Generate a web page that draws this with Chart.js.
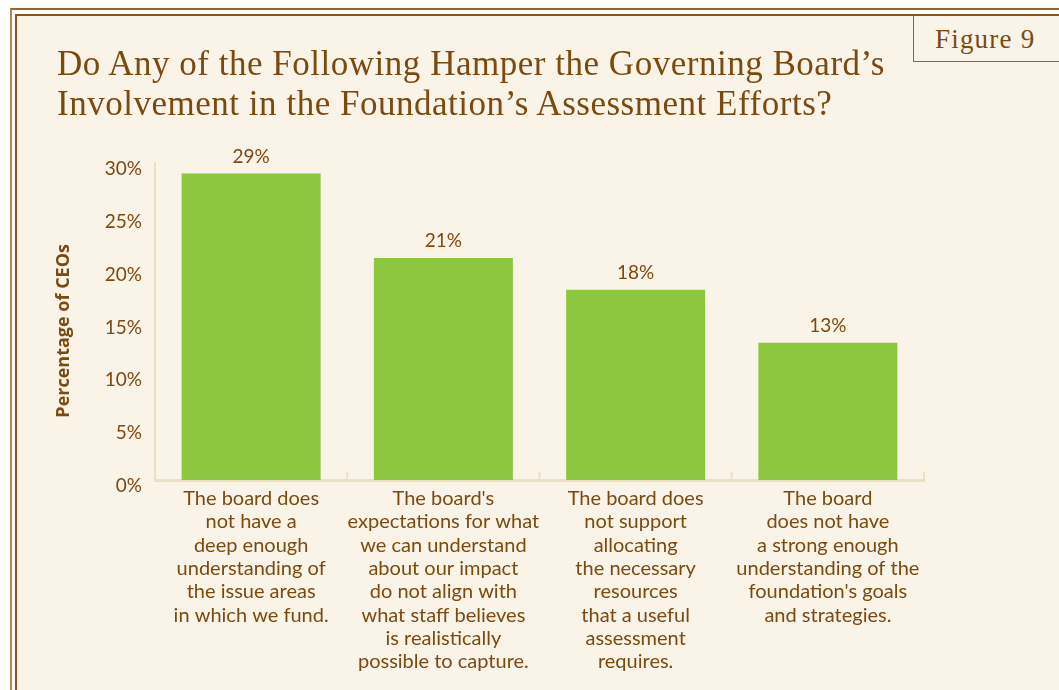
<!DOCTYPE html>
<html>
<head>
<meta charset="utf-8">
<script src="https://cdn.jsdelivr.net/npm/chart.js@4.4.1/dist/chart.umd.min.js"></script>
<style>
html,body{margin:0;padding:0;background:#ffffff;width:1059px;height:690px;overflow:hidden;position:relative;}
#outer{position:absolute;left:10px;top:8px;width:1100px;height:720px;border-left:2px solid #b8864a;border-top:2px solid #9a6424;box-sizing:border-box;}
#panel{position:absolute;left:15px;top:14px;width:1100px;height:720px;border-left:2px solid #8a5516;border-top:2px solid #8a5516;background:#faf3e8;box-sizing:border-box;}
#fig{position:absolute;left:913px;top:16px;width:200px;height:46px;border-left:1px solid #9a6424;border-bottom:1px solid #9a6424;box-sizing:border-box;}
#figtext{position:absolute;left:935px;top:21px;font-family:'Liberation Serif',serif;font-size:27px;line-height:36px;color:#7b4a10;letter-spacing:1.2px;white-space:nowrap;}
#title{position:absolute;left:57px;top:43.5px;font-family:'Liberation Serif',serif;font-size:35px;line-height:40px;color:#7b4a10;white-space:nowrap;}
#c{position:absolute;left:0;top:0;}
</style>
</head>
<body>
<div id="outer"></div>
<div id="panel"></div>
<div id="fig"></div>
<div id="figtext">Figure 9</div>
<canvas id="c" width="1059" height="690"></canvas>
<div id="title"><span id="t1">Do Any of the Following Hamper the Governing Board’s</span><br><span id="t2">Involvement in the Foundation’s Assessment Efforts?</span></div>
<script>
const categories = [
  ["The board does", "not have a", "deep enough", "understanding of", "the issue areas", "in which we fund."],
  ["The board's", "expectations for what", "we can understand", "about our impact", "do not align with", "what staff believes", "is realistically", "possible to capture."],
  ["The board does", "not support", "allocating", "the necessary", "resources", "that a useful", "assessment", "requires."],
  ["The board", "does not have", "a strong enough", "understanding of the", "foundation's goals", "and strategies."]
];
const values = [29, 21, 18, 13];
const yAxisMin = 0;
const yAxisMax = 30;
const yAxisStep = 5;
const yAxisTitle = "Percentage of CEOs";

// fit title letter spacing to reference width
(function(){
  const t1 = document.getElementById('t1');
  const w = t1.getBoundingClientRect().width;
  const n = t1.textContent.length;
  const target = 828;
  const ls = (target - w) / n;
  document.getElementById('title').style.letterSpacing = ls + 'px';
})();

const BROWN = '#7b4a10';
const TAN = '#ede0bf';

const valueLabels = {
  id: 'valueLabels',
  afterDatasetsDraw(chart) {
    const ctx = chart.ctx;
    const meta = chart.getDatasetMeta(0);
    ctx.save();
    ctx.font = '19px Lato';
    ctx.fillStyle = BROWN;
    ctx.textAlign = 'center';
    ctx.textBaseline = 'middle';
    meta.data.forEach((bar, i) => {
      ctx.fillText(values[i] + '%', bar.x, bar.y - 17);
    });
    ctx.restore();
  }
};

const innerTicks = {
  id: 'innerTicks',
  afterDatasetsDraw(chart) {
    const ctx = chart.ctx;
    const xs = chart.scales.x;
    const n = categories.length;
    const half = (xs.getPixelForValue(1) - xs.getPixelForValue(0)) / 2;
    ctx.save();
    ctx.strokeStyle = TAN;
    ctx.lineWidth = 2;
    for (let i = 0; i <= n; i++) {
      const px = (i < n ? xs.getPixelForValue(i) - half : xs.getPixelForValue(n - 1) + half);
      ctx.beginPath();
      ctx.moveTo(px, xs.top);
      ctx.lineTo(px, xs.top - 8);
      ctx.stroke();
    }
    ctx.restore();
  }
};

new Chart(document.getElementById('c'), {
  type: 'bar',
  data: {
    labels: categories,
    datasets: [{
      data: values,
      backgroundColor: '#8dc63f',
      borderWidth: 0,
      categoryPercentage: 0.723,
      barPercentage: 1.0
    }]
  },
  options: {
    responsive: false,
    devicePixelRatio: 1,
    animation: false,
    layout: { padding: { left: 0, top: 163, right: 135, bottom: 0 } },
    plugins: { legend: { display: false }, tooltip: { enabled: false }, title: { display: false } },
    scales: {
      x: {
        offset: true,
        grid: { display: false, drawTicks: false },
        border: { display: true, color: TAN, width: 3 },
        ticks: {
          color: BROWN,
          font: { family: 'Lato', size: 20, lineHeight: 23.3 / 20 },
          padding: 7,
          maxRotation: 0,
          autoSkip: false
        },
        afterFit(scale) { scale.height = 210; }
      },
      y: {
        min: yAxisMin,
        max: yAxisMax,
        grid: { display: false, drawTicks: false },
        border: { display: true, color: TAN, width: 2 },
        ticks: {
          stepSize: yAxisStep,
          color: BROWN,
          font: { family: 'Lato', size: 19 },
          padding: 13,
          labelOffset: 6,
          callback: (v) => v + '%'
        },
        title: {
          display: true,
          text: yAxisTitle + '    ',
          color: BROWN,
          font: { family: 'Open Sans', size: 18, weight: 'bold' },
          padding: { top: 53, bottom: 0 }
        },
        afterFit(scale) { scale.width = 155; }
      }
    }
  },
  plugins: [valueLabels, innerTicks]
});
</script>
</body>
</html>
